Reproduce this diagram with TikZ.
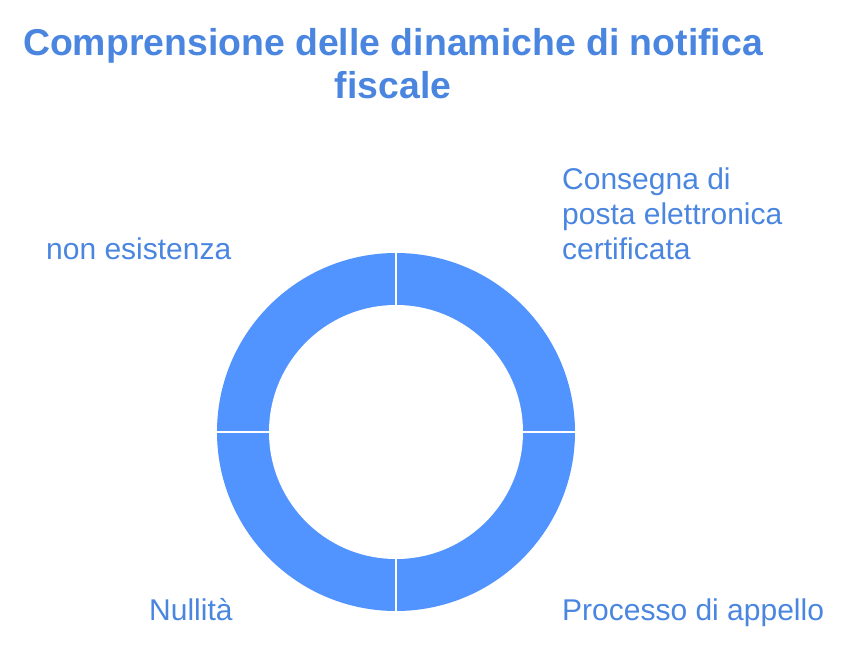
\documentclass[tikz,border=0pt]{standalone}
\usepackage{fontspec}
\setmainfont{Liberation Sans}
\definecolor{ringblue}{HTML}{5294FF}
\definecolor{textblue}{HTML}{4A86E0}

\begin{document}
\begin{tikzpicture}[x=1pt,y=-1pt,
    lbl/.style={text=textblue,font=\fontsize{30}{35}\selectfont,inner sep=0pt,align=left},
    heading/.style={text=textblue,font=\fontsize{37.4}{43}\selectfont\bfseries,inner sep=0pt,align=center},
    gapline/.style={white,line width=2pt}]
  \useasboundingbox (0,0) rectangle (846,648);
  % ring
  \fill[ringblue] (396,432) circle (179pt);
  \fill[white] (396,432) circle (127pt);
  \foreach \a in {0,90,180,270}
    \draw[gapline,shift={(396,432)}] (\a:125pt) -- (\a:181pt);
  % texts
  \node[heading,anchor=base] (title) at (393,98) {Comprensione delle dinamiche di notifica\\fiscale};
  \node[lbl,anchor=base west] (pec) at (562,259) {Consegna di\\posta elettronica\\certificata};
  \node[lbl,anchor=base west] (esistenza) at (46,259) {non esistenza};
  \node[lbl,anchor=base west] (nullita) at (149,620) {Nullità};
  \node[lbl,anchor=base west] (appello) at (562,620) {Processo di appello};
\end{tikzpicture}
\end{document}
